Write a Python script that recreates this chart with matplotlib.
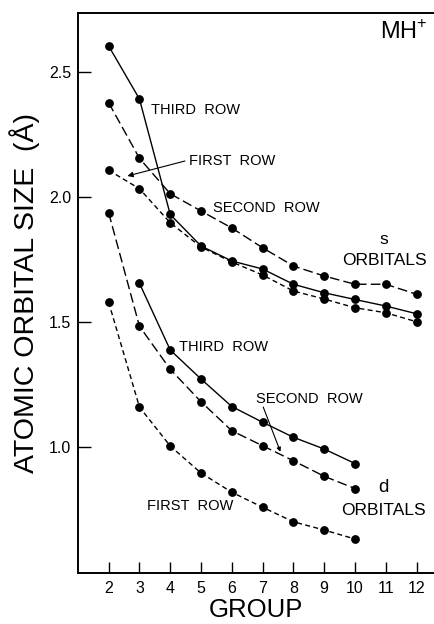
import matplotlib
matplotlib.use('Agg')
import matplotlib.pyplot as plt

plt.rcParams['font.family'] = ['Liberation Sans', 'DejaVu Sans']
plt.rcParams['mathtext.fontset'] = 'custom'
plt.rcParams['mathtext.rm'] = 'Liberation Sans'

# s orbitals, groups 2-12
groups_s = [2, 3, 4, 5, 6, 7, 8, 9, 10, 11, 12]
s_third = [2.604, 2.392, 1.93, 1.804, 1.744, 1.712, 1.651, 1.617, 1.590, 1.564, 1.533]
s_second = [2.377, 2.155, 2.013, 1.944, 1.876, 1.797, 1.724, 1.684, 1.651, 1.651, 1.611]
s_first = [2.107, 2.033, 1.897, 1.800, 1.740, 1.688, 1.624, 1.592, 1.557, 1.537, 1.501]

# d orbitals
groups_d3 = [3, 4, 5, 6, 7, 8, 9, 10]
d_third = [1.655, 1.388, 1.272, 1.162, 1.099, 1.039, 0.992, 0.934]
groups_d = [2, 3, 4, 5, 6, 7, 8, 9, 10]
d_second = [1.937, 1.483, 1.311, 1.181, 1.065, 1.005, 0.945, 0.883, 0.834]
d_first = [1.579, 1.160, 1.004, 0.896, 0.819, 0.759, 0.701, 0.668, 0.632]

x_ticks = list(range(2, 13))
y_ticks = [1.0, 1.5, 2.0, 2.5]

solid = '-'
long_dash = (0, (7, 3))
short_dash = (0, (3.6, 2.4))

fig = plt.figure(figsize=(4.35, 6.24), dpi=100)
ax = fig.add_axes([0.179, 0.0817, 0.821, 0.8975])

kw = dict(color='black', marker='o', markersize=5.3, linewidth=1.0)
ax.plot(groups_s, s_third, linestyle=solid, **kw)
ax.plot(groups_s, s_second, linestyle=long_dash, **kw)
ax.plot(groups_s, s_first, linestyle=short_dash, **kw)
ax.plot(groups_d3, d_third, linestyle=solid, **kw)
ax.plot(groups_d, d_second, linestyle=long_dash, **kw)
ax.plot(groups_d, d_first, linestyle=short_dash, **kw)

ax.set_xlim(1.0, 12.6)
ax.set_ylim(0.496, 2.736)
ax.set_xticks(x_ticks)
ax.set_yticks(y_ticks)
ax.set_yticklabels(['1.0', '1.5', '2.0', '2.5'])
ax.tick_params(direction='in', length=8, width=1.0, labelsize=11.5, pad=6)
ax.tick_params(axis='y', length=9, pad=5)
ax.spines['right'].set_visible(False)
for sp in ['left', 'top', 'bottom']:
    ax.spines[sp].set_linewidth(1.4)

ax.set_xlabel('GROUP', fontsize=18.5, labelpad=1)
ax.set_ylabel('ATOMIC ORBITAL SIZE  (Å)', fontsize=20.5, labelpad=6)

lab = dict(fontsize=10.5, ha='left', va='center')
# s orbital labels
ax.text(3.36, 2.348, 'THIRD  ROW', **lab)
ax.text(4.60, 2.144, 'FIRST  ROW', **lab)
ax.annotate('', xy=(2.61, 2.084), xytext=(4.48, 2.144),
            arrowprops=dict(arrowstyle='-|>', color='black', lw=0.8,
                            mutation_scale=8, shrinkA=0, shrinkB=0))
ax.text(5.40, 1.956, 'SECOND  ROW', **lab)
ax.text(10.93, 1.831, 's', fontsize=12.5, ha='center', va='center')
ax.text(10.97, 1.744, 'ORBITALS', fontsize=12.5, ha='center', va='center')

# d orbital labels
ax.text(4.28, 1.401, 'THIRD  ROW', **lab)
ax.text(6.77, 1.194, 'SECOND  ROW', **lab)
ax.annotate('', xy=(7.58, 0.981), xytext=(7.02, 1.16),
            arrowprops=dict(arrowstyle='-|>', color='black', lw=0.8,
                            mutation_scale=6, shrinkA=0, shrinkB=0))
ax.text(3.26, 0.765, 'FIRST  ROW', **lab)
ax.text(10.94, 0.839, 'd', fontsize=13.5, ha='center', va='center')
ax.text(10.93, 0.745, 'ORBITALS', fontsize=12.5, ha='center', va='center')

ax.text(12.38, 2.661, r'MH$^{\mathregular{+}}$', fontsize=17, ha='right', va='center')

fig.savefig('out.png', dpi=100)
